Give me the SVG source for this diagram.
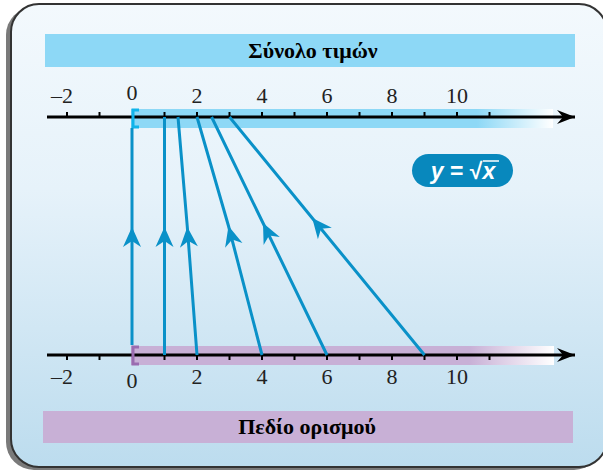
<svg xmlns="http://www.w3.org/2000/svg" width="603" height="471" viewBox="0 0 603 471">
<defs>
<linearGradient id="bg" x1="0" y1="0" x2="0" y2="1">
<stop offset="0" stop-color="#f3f9fd"/>
<stop offset="0.4" stop-color="#e6f2fa"/>
<stop offset="1" stop-color="#bcdcee"/>
</linearGradient>
<linearGradient id="bandTop" x1="131" y1="0" x2="553" y2="0" gradientUnits="userSpaceOnUse">
<stop offset="0" stop-color="#8dd8f6"/>
<stop offset="0.82" stop-color="#8dd8f6"/>
<stop offset="1" stop-color="#ffffff"/>
</linearGradient>
<linearGradient id="bandBot" x1="131" y1="0" x2="554" y2="0" gradientUnits="userSpaceOnUse">
<stop offset="0" stop-color="#c8b0d6"/>
<stop offset="0.8" stop-color="#c8b0d6"/>
<stop offset="1" stop-color="#ffffff"/>
</linearGradient>
<marker id="ah" viewBox="-22 -10 24 20" refX="0" refY="0" markerWidth="24" markerHeight="20" markerUnits="userSpaceOnUse" orient="auto">
<path d="M0,0 L-20,-9 L-14,0 L-20,9 Z" fill="#0a91c8"/>
</marker>
<marker id="axh" viewBox="-22 -8 24 16" refX="0" refY="0" markerWidth="24" markerHeight="16" markerUnits="userSpaceOnUse" orient="auto">
<path d="M0,0 L-18,-7 L-12,0 L-18,7 Z" fill="#000"/>
</marker>
</defs>
<style>
.num{font-family:"Liberation Serif","DejaVu Serif",serif;font-size:22px;fill:#222;text-anchor:middle}
.ttl{font-family:"Liberation Serif","DejaVu Serif",serif;font-size:22px;font-weight:bold;fill:#000;text-anchor:middle}
.axis{stroke:#000;stroke-width:3;fill:none}
.tick{stroke:#000;stroke-width:2}
.conn{stroke:#0a91c8;stroke-width:3;fill:none;marker-mid:url(#ah)}
</style>
<g id="frame">
<rect x="6" y="7" width="596" height="463" rx="28" fill="#7a7a7a"/>
<rect x="11" y="4" width="596" height="463" rx="28" fill="url(#bg)" stroke="#333" stroke-width="2"/>
</g>
<g id="range-title">
<rect x="45" y="34" width="530" height="33" fill="#8dd8f6"/>
<text class="ttl" x="313" y="58">Σύνολο τιμών</text>
</g>
<g id="domain-title">
<rect x="43" y="411" width="530" height="32" fill="#c8b0d6"/>
<text class="ttl" x="307" y="434">Πεδίο ορισμού</text>
</g>
<g id="top-axis">
<rect x="131" y="109" width="422" height="19" fill="url(#bandTop)"/>
<line class="axis" x1="47" y1="117" x2="575" y2="117" marker-end="url(#axh)"/>
<g class="tick">
<line x1="67" y1="112" x2="67" y2="117"/><line x1="99.5" y1="112" x2="99.5" y2="117"/>
<line x1="164.5" y1="112" x2="164.5" y2="117"/><line x1="197" y1="112" x2="197" y2="117"/>
<line x1="229.5" y1="112" x2="229.5" y2="117"/><line x1="262" y1="112" x2="262" y2="117"/>
<line x1="294.5" y1="112" x2="294.5" y2="117"/><line x1="327" y1="112" x2="327" y2="117"/>
<line x1="359.5" y1="112" x2="359.5" y2="117"/><line x1="392" y1="112" x2="392" y2="117"/>
<line x1="424.5" y1="112" x2="424.5" y2="117"/><line x1="457" y1="112" x2="457" y2="117"/>
<line x1="489.5" y1="112" x2="489.5" y2="117"/>
</g>
<path d="M139,110 H133 V127 H139" fill="none" stroke="#10b4ea" stroke-width="3"/>
<text class="num" x="62" y="103">–2</text>
<text class="num" x="132" y="100">0</text>
<text class="num" x="197" y="103">2</text>
<text class="num" x="262" y="103">4</text>
<text class="num" x="327" y="103">6</text>
<text class="num" x="392" y="103">8</text>
<text class="num" x="457" y="103">10</text>
</g>
<g id="bottom-axis">
<rect x="131" y="346" width="423" height="19" fill="url(#bandBot)"/>
<line class="axis" x1="47" y1="355" x2="575" y2="355" marker-end="url(#axh)"/>
<g class="tick">
<line x1="67" y1="355" x2="67" y2="360"/><line x1="99.5" y1="355" x2="99.5" y2="360"/>
<line x1="164.5" y1="355" x2="164.5" y2="360"/><line x1="197" y1="355" x2="197" y2="360"/>
<line x1="229.5" y1="355" x2="229.5" y2="360"/><line x1="262" y1="355" x2="262" y2="360"/>
<line x1="294.5" y1="355" x2="294.5" y2="360"/><line x1="327" y1="355" x2="327" y2="360"/>
<line x1="359.5" y1="355" x2="359.5" y2="360"/><line x1="392" y1="355" x2="392" y2="360"/>
<line x1="424.5" y1="355" x2="424.5" y2="360"/><line x1="457" y1="355" x2="457" y2="360"/>
<line x1="489.5" y1="355" x2="489.5" y2="360"/>
</g>
<path d="M139,347 H133 V364 H139" fill="none" stroke="#9a6cb0" stroke-width="3"/>
<text class="num" x="62" y="384">–2</text>
<text class="num" x="132" y="388">0</text>
<text class="num" x="197" y="384">2</text>
<text class="num" x="262" y="384">4</text>
<text class="num" x="327" y="384">6</text>
<text class="num" x="392" y="384">8</text>
<text class="num" x="457" y="384">10</text>
</g>
<g id="connectors">
<polyline class="conn" points="132,345 132,227 132,128"/>
<polyline class="conn" points="164.5,355 164.5,227 164.5,117"/>
<polyline class="conn" points="197,355 187.3,227 178,117"/>
<polyline class="conn" points="262,355 228.5,226 197,117"/>
<polyline class="conn" points="327,355 263,223 211.6,117"/>
<polyline class="conn" points="424.5,355 312.2,218 229.5,117"/>
</g>
<g id="formula">
<rect x="412" y="154" width="101" height="33" rx="16.5" fill="#0888bd"/>
<text x="463" y="179" text-anchor="middle" font-family="'Liberation Sans','DejaVu Sans',sans-serif" font-size="23" font-weight="bold" fill="#fff"><tspan font-style="italic">y</tspan> = √<tspan font-style="italic">x</tspan></text>
<line x1="483" y1="161" x2="499" y2="161" stroke="#fff" stroke-width="1.5"/>
</g>
</svg>
